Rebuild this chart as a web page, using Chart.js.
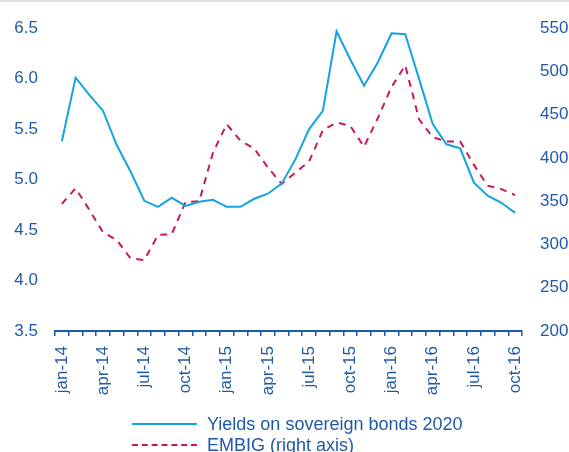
<!DOCTYPE html>
<html>
<head>
<meta charset="utf-8">
<script src="https://cdn.jsdelivr.net/npm/chart.js@4/dist/chart.umd.min.js"></script>
<style>
  html, body { margin: 0; padding: 0; background: #fff; }
  #wrap { position: relative; width: 569px; height: 452px; overflow: hidden; font-family: "Liberation Sans", Arial, sans-serif; }
  #topline { position: absolute; left: 0; top: 0; width: 569px; height: 2px; background: #e2e2e2; }
  canvas { position: absolute; left: 0; top: 0; }
  .leg { position: absolute; left: 132px; height: 20px; color: #1f5aa8; font-size: 18px; line-height: 20px; }
  .leg .sw { position: absolute; left: 0; top: 9px; width: 65px; height: 0; }
  .leg .tx { position: absolute; left: 75px; top: 0; white-space: nowrap; }
</style>
</head>
<body>
<div id="wrap">
  <canvas id="c" width="569" height="452"></canvas>
  <div id="topline"></div>
  <div class="leg" style="top:414px"><div class="sw" style="border-top:2px solid #14a2e0"></div><div class="tx">Yields on sovereign bonds 2020</div></div>
  <div class="leg" style="top:435px"><div class="sw" style="border-top:2px dashed #c8175e"></div><div class="tx">EMBIG (right axis)</div></div>
</div>
<script>
// Monthly observations, January 2014 to October 2016
const months = ['jan-14','feb-14','mar-14','apr-14','may-14','jun-14','jul-14','aug-14','sep-14','oct-14','nov-14','dec-14',
                'jan-15','feb-15','mar-15','apr-15','may-15','jun-15','jul-15','aug-15','sep-15','oct-15','nov-15','dec-15',
                'jan-16','feb-16','mar-16','apr-16','may-16','jun-16','jul-16','aug-16','sep-16','oct-16'];

// Yields on sovereign bonds maturing 2020, percent (left axis)
const yields2020 = [5.38, 6.01, 5.84, 5.68, 5.34, 5.08, 4.79, 4.73, 4.82, 4.74, 4.78, 4.80,
                    4.73, 4.73, 4.81, 4.86, 4.96, 5.20, 5.50, 5.68, 6.47, 6.19, 5.93, 6.16,
                    6.45, 6.44, 6.00, 5.55, 5.35, 5.31, 4.97, 4.84, 4.77, 4.67];

// EMBIG spread, basis points (right axis)
const embig = [347, 365, 340, 314, 305, 284, 282, 311, 312, 349, 350, 406,
               439, 420, 411, 389, 370, 383, 396, 432, 441, 437, 413, 446,
               482, 507, 445, 424, 419, 419, 392, 368, 364, 357];

const leftTicks = [3.5, 4.0, 4.5, 5.0, 5.5, 6.0, 6.5];
const rightTicks = [200, 250, 300, 350, 400, 450, 500, 550];

const axisBlue = '#1f5aa8';
const font = { family: '"Liberation Sans", Arial, sans-serif', size: 17 };

new Chart(document.getElementById('c'), {
  type: 'line',
  data: {
    labels: months,
    datasets: [
      { label: 'Yields on sovereign bonds 2020', data: yields2020, yAxisID: 'y',
        borderColor: '#14a2e0', borderWidth: 2, pointRadius: 0, tension: 0, fill: false },
      { label: 'EMBIG (right axis)', data: embig, yAxisID: 'y1',
        borderColor: '#c8175e', borderWidth: 2, borderDash: [7, 6], pointRadius: 0, tension: 0, fill: false }
    ]
  },
  options: {
    responsive: false,
    animation: false,
    devicePixelRatio: 1,
    layout: { padding: { top: 20, left: 0, right: 0, bottom: 0 } },
    plugins: { legend: { display: false }, tooltip: { enabled: false } },
    scales: {
      x: {
        offset: true,
        grid: { display: true, drawOnChartArea: false, drawTicks: true, tickLength: 5, color: axisBlue, lineWidth: 1.5, offset: true },
        border: { display: true, color: axisBlue, width: 2 },
        ticks: {
          autoSkip: false, maxRotation: 90, minRotation: 90, padding: 10, color: axisBlue, font: font,
          callback: function (v, i) { return i % 3 === 0 ? months[i] : ''; }
        },
        afterFit: function (s) { s.height = 121; }
      },
      y: {
        position: 'left', min: 3.5, max: 6.5,
        afterBuildTicks: function (s) { s.ticks = leftTicks.map(v => ({ value: v })); },
        grid: { display: false, drawTicks: false },
        border: { display: false },
        ticks: { padding: 17, color: axisBlue, font: font, callback: v => v.toFixed(1) },
        afterFit: function (s) { s.width = 55; }
      },
      y1: {
        position: 'right', min: 200, max: 550,
        afterBuildTicks: function (s) { s.ticks = rightTicks.map(v => ({ value: v })); },
        grid: { display: false, drawTicks: false },
        border: { display: false },
        ticks: { padding: 18, color: axisBlue, font: font },
        afterFit: function (s) { s.width = 47; }
      }
    }
  }
});
</script>
</body>
</html>
